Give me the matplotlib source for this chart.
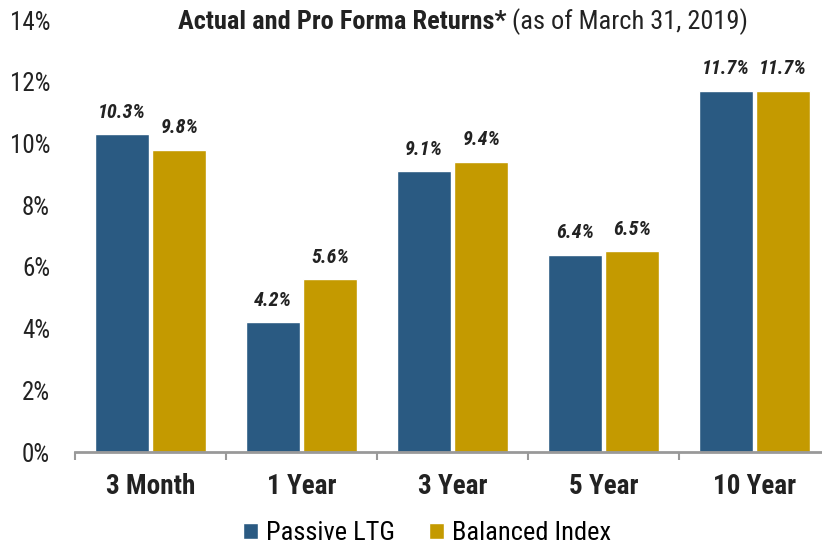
import matplotlib
matplotlib.use("Agg")
import matplotlib.pyplot as plt
import numpy as np

categories = ["3 Month", "1 Year", "3 Year", "5 Year", "10 Year"]
passive_ltg = [10.3, 4.2, 9.1, 6.4, 11.7]
balanced_index = [9.8, 5.6, 9.4, 6.5, 11.7]
series_names = ["Passive LTG", "Balanced Index"]
yticks = [0, 2, 4, 6, 8, 10, 12, 14]

plt.rcParams['font.family'] = ['Liberation Sans Narrow', 'Roboto Condensed', 'DejaVu Sans Condensed',
                               'Roboto', 'DejaVu Sans']

BLUE = "#2A5A82"
GOLD = "#C49A00"
TXT = "#222222"

fig = plt.figure(figsize=(8.22, 5.46), dpi=100)
ax = fig.add_axes([75/822, 1-452/546, 755/822, (452-20)/546])

x = np.arange(len(categories))
w = 0.36
off = 0.19
b1 = ax.bar(x - off, passive_ltg, w, color=BLUE, edgecolor="white", linewidth=1.0, label=series_names[0])
b2 = ax.bar(x + off, balanced_index, w, color=GOLD, edgecolor="white", linewidth=1.0, label=series_names[1])

for bars, vals in ((b1, passive_ltg), (b2, balanced_index)):
    for r, v in zip(bars, vals):
        ax.annotate(f"{v:.1f}%", (r.get_x() + r.get_width()/2, v), xytext=(0, 12),
                    textcoords="offset points", ha="center", va="baseline",
                    fontsize=14.5, fontweight="bold", fontstyle="italic", color=TXT)

ax.set_xlim(-0.5, len(categories) - 0.5)
ax.set_ylim(0, 14)
ax.set_yticks(yticks)
ax.set_yticklabels([f"{t}%" for t in yticks], fontsize=18, color=TXT)
ax.tick_params(axis="y", length=0, pad=18)

ax.set_xticks(np.arange(len(categories) + 1) - 0.5, minor=False)
ax.set_xticklabels([])
ax.tick_params(axis="x", which="major", length=6, width=1.5, color="#999999", direction="out")
ax.set_xticks(x, minor=True)
ax.set_xticklabels(categories, minor=True, fontsize=19.5, fontweight="bold", color=TXT)
ax.tick_params(axis="x", which="minor", length=0, pad=15)

for s in ("top", "right", "left"):
    ax.spines[s].set_visible(False)
ax.spines["bottom"].set_color("#999999")
ax.spines["bottom"].set_linewidth(2)

# Title: bold part + regular part
fig.canvas.draw()
r = fig.canvas.get_renderer()
t1 = fig.text(0, 1-22/546, "Actual and Pro Forma Returns*", fontsize=19, fontweight="bold",
              ha="left", va="center", color=TXT)
t2 = fig.text(0, 1-22/546, " (as of March 31, 2019)", fontsize=19,
              ha="left", va="center", color=TXT)
w1 = t1.get_window_extent(r).width
w2 = t2.get_window_extent(r).width
cx = 463
start = cx - (w1 + w2)/2
t1.set_x(start/822)
t2.set_x((start + w1)/822)

fig.legend(handles=[b1, b2], labels=series_names, loc="center", bbox_to_anchor=(427/822, 1-533/546),
           ncol=2, frameon=False, fontsize=19, handlelength=0.55, handleheight=0.55,
           handletextpad=0.3, columnspacing=1.3)

fig.savefig("out.png", dpi=100)
